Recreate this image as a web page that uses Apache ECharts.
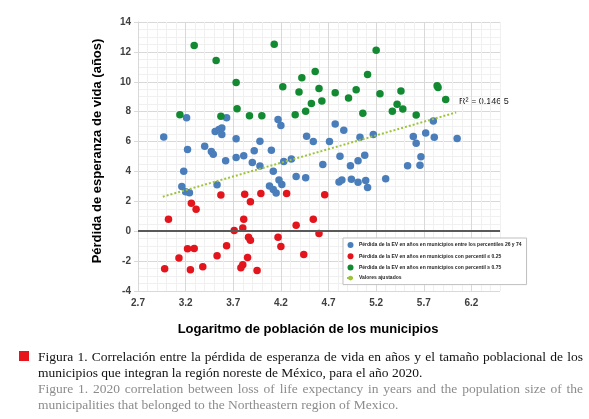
<!DOCTYPE html>
<html><head><meta charset="utf-8">
<script src="https://cdn.jsdelivr.net/npm/echarts@6/dist/echarts.min.js"></script>
<style>html,body{margin:0;padding:0;background:#fff}#c{width:589px;height:419px}</style>
</head><body><div id="c"></div>
<script>
// ---- data ----
const blueX = [2.97,3.21,3.22,3.40,3.47,3.49,3.51,3.55,3.58,3.58,3.63,3.73,3.73,3.81,3.92,3.98,4.10,4.17,4.20,4.47,4.54,4.71,4.77,4.86,5.03,5.17,4.82,5.08,5.59,5.62,5.72,5.80,5.81,6.05,5.67,3.62,3.18,3.16,3.20,3.24,3.53,3.90,3.98,4.12,4.23,4.31,4.08,4.12,4.15,4.18,4.21,4.36,4.46,4.64,4.81,4.93,5.01,4.84,4.94,5.01,5.09,5.11,5.30,5.53,5.66];
const blueY = [6.31,7.60,5.47,5.69,5.33,5.15,6.67,6.80,6.91,6.47,7.60,6.18,4.93,5.05,5.38,6.02,5.42,7.47,7.07,6.35,6.00,6.00,7.18,6.76,6.29,6.47,5.02,5.09,6.33,5.89,6.58,7.38,6.29,6.20,4.98,4.71,4.02,3.00,2.64,2.58,3.11,4.60,4.36,4.02,4.67,4.84,3.02,2.80,2.56,3.42,3.13,3.67,3.58,4.47,3.29,4.38,4.71,3.42,3.47,3.27,3.40,2.93,3.51,4.38,4.42];
const redX = [3.02,2.98,3.13,3.22,3.29,3.25,3.26,3.31,3.38,3.57,3.53,3.63,3.71,3.80,3.81,3.82,3.88,3.99,3.86,3.88,3.85,3.80,3.78,3.95,4.26,4.17,4.20,4.36,4.44,4.54,4.60,4.66];
const redY = [0.80,-2.51,-1.80,-1.18,-1.16,-2.58,1.87,1.47,-2.38,2.42,-1.64,-0.98,0.04,0.22,0.80,2.47,1.98,2.53,-0.40,-0.60,-1.76,-2.24,-2.44,-2.62,2.53,-0.40,-1.02,0.40,-1.56,0.80,-0.16,2.44];
const greenX = [3.29,3.52,3.73,4.13,3.14,3.57,3.74,3.87,4.00,4.22,4.35,4.39,4.42,4.46,4.52,4.56,4.60,4.63,4.77,4.99,4.91,5.11,5.20,5.24,5.06,5.46,5.42,5.48,5.37,5.62,5.84,5.85,5.93];
const greenY = [12.42,11.42,9.95,12.51,7.80,7.69,8.20,7.73,7.73,9.67,7.80,9.31,10.27,8.02,8.55,10.69,9.55,8.71,9.27,9.47,8.91,10.49,12.11,9.20,7.89,9.38,8.49,8.18,8.02,7.78,9.73,9.62,8.82];
const trendX = [2.96, 6.04];
const trendY = [2.31, 7.95];
const seriesNames = [
  'Pérdida de la EV en años en municipios entre los percentiles 26 y 74',
  'Pérdida de la EV en años en municipios con percentil ≤ 0.25',
  'Pérdida de la EV en años en municipios con percentil ≥ 0.75',
  'Valores ajustados'
];
const xTitle = 'Logaritmo de población de los municipios';
const yTitle = 'Pérdida de esperanza de vida (años)';
const r2Label = 'R² = 0.146 5';
const captionES = [
  'Figura 1. Correlación entre la pérdida de esperanza de vida en años y el tamaño poblacional de los',
  'municipios que integran la región noreste de México, para el año 2020.'
];
const captionEN = [
  'Figure 1. 2020 correlation between loss of life expectancy in years and the population size of the',
  'municipalities that belonged to the Northeastern region of Mexico.'
];
const xMin = 2.7, xMax = 6.5, xMajor = 0.5, xMinor = 0.1;
const yMin = -4, yMax = 14, yMajor = 2;

const zip = (a, b) => a.map((v, i) => [v, b[i]]);
const chart = echarts.init(document.getElementById('c'), null, {renderer: 'canvas'});
const majorC = '#d9d9d9', minorC = '#f0f0f0';
const capFont = '13.5px "Liberation Serif", "DejaVu Serif", serif';

// justified caption line: words spread to fill the width
const mctx = document.createElement('canvas').getContext('2d');
function justifiedLine(text, x0, y, width, fill) {
  mctx.font = capFont;
  const words = text.split(' ');
  const ws = words.map(w => mctx.measureText(w).width);
  const total = ws.reduce((a, b) => a + b, 0);
  const gap = (width - total) / (words.length - 1);
  let x = x0;
  return words.map((w, i) => {
    const el = {type: 'text', x: x, y: y, style: {text: w, font: capFont, fill: fill, verticalAlign: 'middle'}};
    x += ws[i] + gap;
    return el;
  });
}
function plainLine(text, x0, y, fill) {
  return {type: 'text', x: x0, y: y, style: {text: text, font: capFont, fill: fill, verticalAlign: 'middle'}};
}

const option = {
  animation: false,
  backgroundColor: '#fff',
  grid: {left: 138, right: 89, top: 22, bottom: 128},
  xAxis: {
    type: 'value', min: xMin, max: xMax, interval: xMinor,
    axisLine: {show: true, lineStyle: {color: majorC, width: 1}},
    axisTick: {show: false},
    axisLabel: {
      margin: 7, fontSize: 10, fontWeight: 'bold', color: '#404040', fontFamily: 'Liberation Sans, Arial',
      formatter: v => { const k = Math.round((v - xMin) / xMinor); return (k % 5 === 0) ? (xMin + k * xMinor).toFixed(1) : ''; }
    },
    splitLine: {show: true, lineStyle: {color: [majorC, minorC, minorC, minorC, minorC], width: 1}}
  },
  yAxis: {
    type: 'value', min: yMin, max: yMax, interval: yMajor,
    axisLine: {show: true, lineStyle: {color: majorC}},
    axisTick: {show: true, length: 4, lineStyle: {color: majorC}},
    axisLabel: {margin: 7, fontSize: 10, fontWeight: 'bold', color: '#404040', fontFamily: 'Liberation Sans, Arial'},
    splitLine: {show: true, lineStyle: {color: majorC}},
    minorTick: {show: false, splitNumber: 4},
    minorSplitLine: {show: true, lineStyle: {color: minorC}}
  },
  legend: {
    orient: 'vertical', left: 343, top: 238,
    itemWidth: 7, itemHeight: 6, itemGap: 5.2,
    padding: [4, 5, 4, 3],
    backgroundColor: '#fff', borderColor: '#bfbfbf', borderWidth: 1,
    textStyle: {fontSize: 5, fontWeight: 'bold', color: '#262626', fontFamily: 'Liberation Sans, Arial', padding: [0, 0, 0, 0]},
    data: [
      {name: seriesNames[0], icon: 'circle'},
      {name: seriesNames[1], icon: 'circle'},
      {name: seriesNames[2], icon: 'circle'},
      {name: seriesNames[3]}
    ]
  },
  graphic: [
    {type: 'text', x: 308, y: 329, style: {text: xTitle, font: 'bold 13px "Liberation Sans", Arial', fill: '#000', align: 'center', verticalAlign: 'middle'}},
    {type: 'text', x: 97, y: 151, rotation: Math.PI / 2, style: {text: yTitle, font: 'bold 13px "Liberation Sans", Arial', fill: '#000', align: 'center', verticalAlign: 'middle'}},
    {type: 'text', x: 459, y: 102, style: {text: r2Label, font: '9px "Liberation Sans", Arial', fill: '#1a1a1a', align: 'left', verticalAlign: 'middle'}},
    {type: 'rect', shape: {x: 19, y: 351, width: 10, height: 10}, style: {fill: '#e8141c'}},
    ...justifiedLine(captionES[0], 38, 357, 545, '#111'),
    plainLine(captionES[1], 38, 373, '#111'),
    ...justifiedLine(captionEN[0], 38, 389, 545, '#8c8c8c'),
    plainLine(captionEN[1], 38, 405, '#8c8c8c')
  ],
  series: [
    {name: seriesNames[0], type: 'scatter', symbolSize: 7.5, data: zip(blueX, blueY), itemStyle: {color: '#4a7ebb', opacity: 1}},
    {name: seriesNames[1], type: 'scatter', symbolSize: 7.5, data: zip(redX, redY), itemStyle: {color: '#e3141c', opacity: 1}},
    {name: seriesNames[2], type: 'scatter', symbolSize: 7.5, data: zip(greenX, greenY), itemStyle: {color: '#128a31', opacity: 1}},
    {name: seriesNames[3], type: 'line', symbol: 'none', data: zip(trendX, trendY), z: 3,
      itemStyle: {color: '#9dc43a'},
      lineStyle: {color: '#9dc43a', width: 2, type: [2, 2]},
      markLine: {silent: true, symbol: 'none', label: {show: false},
        lineStyle: {color: '#595959', width: 2, type: 'solid'}, data: [{yAxis: 0}]}
    }
  ]
};
chart.setOption(option);
</script></body></html>
